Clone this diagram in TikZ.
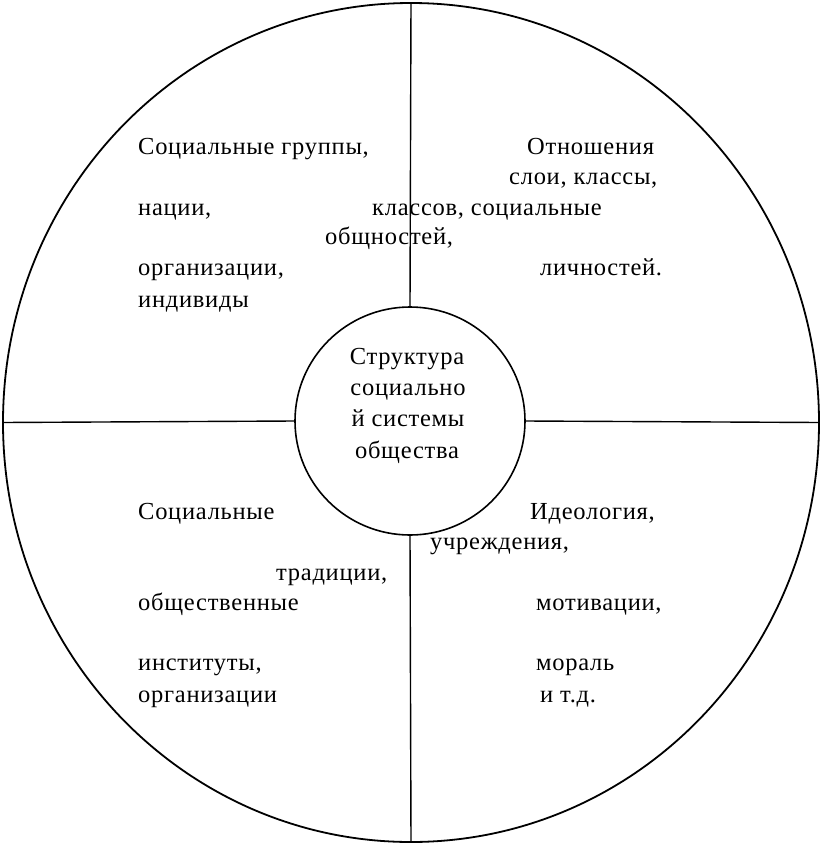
\documentclass[tikz,border=0pt]{standalone}
\usepackage{fontspec}
\setmainfont[LetterSpace=3]{Liberation Serif}
\usetikzlibrary{shapes.geometric}
\begin{document}
\begin{tikzpicture}[x=1pt,y=-1pt,
  lbl/.style={anchor=mid west,inner sep=0pt,font=\fontsize{24.5}{29}\selectfont},
  clbl/.style={anchor=mid,inner sep=0pt,font=\fontsize{24.5}{29}\selectfont},
  ring/.style={draw,ellipse,line width=1.8pt,inner sep=0pt}]
\useasboundingbox (0,0) rectangle (820,844);
\node[ring,minimum width=816pt,minimum height=839pt] (outer) at (411,422.5) {};
\node[ring,line width=1.6pt,minimum width=230pt,minimum height=228pt] (core) at (410,421) {};
\draw[line width=1.4pt] (outer.north) -- (core.north);
\draw[line width=1.4pt] (core.south) -- (outer.south);
\draw[line width=1.4pt] (outer.west) -- (core.west);
\draw[line width=1.4pt] (core.east) -- (outer.east);
% top-left
\node[lbl] (a1) at (138,152) {Социальные группы,};
\node[lbl] (a2) at (138,213) {нации,};
\node[lbl] (a3) at (138,273) {организации,};
\node[lbl] (a4) at (138,305) {индивиды};
% top-right
\node[lbl] (b1) at (527,152) {Отношения};
\node[lbl] (b2) at (509,182) {слои, классы,};
\node[lbl] (b3) at (372,213) {классов, социальные};
\node[lbl] (b4) at (325,242) {общностей,};
\node[lbl] (b5) at (540,273) {личностей.};
% bottom-left
\node[lbl] (c1) at (138,517) {Социальные};
\node[lbl] (c2) at (276,578) {традиции,};
\node[lbl] (c3) at (138,608) {общественные};
\node[lbl] (c4) at (138,668) {институты,};
\node[lbl] (c5) at (138,700) {организации};
% bottom-right
\node[lbl] (d1) at (530,517) {Идеология,};
\node[lbl] (d2) at (430,547) {учреждения,};
\node[lbl] (d3) at (536,608) {мотивации,};
\node[lbl] (d4) at (536,668) {мораль};
\node[lbl] (d5) at (540,700) {и т.д.};
% centre
\node[clbl] (m1) at (407,362) {Структура};
\node[clbl] (m2) at (408,393) {социально};
\node[clbl] (m3) at (408,424) {й системы};
\node[clbl] (m4) at (407,456) {общества};
\end{tikzpicture}
\end{document}
